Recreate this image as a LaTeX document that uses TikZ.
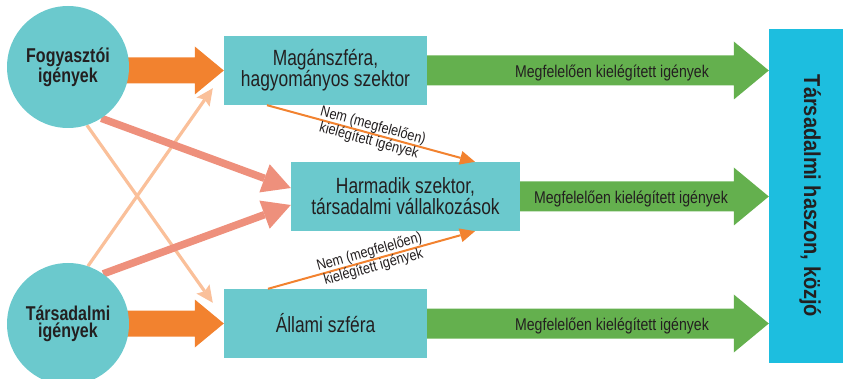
\documentclass[tikz,border=0pt]{standalone}
\usepackage{fontspec}
\setmainfont{Liberation Sans}
\newfontfamily\fgreen[FakeStretch=0.83]{Liberation Sans}
\newfontfamily\fboxt[FakeStretch=0.79]{Liberation Sans}
\newfontfamily\fcirc[FakeStretch=0.8]{Liberation Sans}
\newfontfamily\fbar[FakeStretch=0.87]{Liberation Sans}
\newfontfamily\flab[FakeStretch=0.85]{Liberation Sans}
\usetikzlibrary{arrows.meta,calc}
\definecolor{tealc}{HTML}{6BC9CD}
\definecolor{orangec}{HTML}{F2822F}
\definecolor{salmonc}{HTML}{EE907C}
\definecolor{peachc}{HTML}{FAC09A}
\definecolor{greenc}{HTML}{64B04E}
\definecolor{cyanc}{HTML}{1DBEDF}
\definecolor{darkc}{HTML}{231F20}
\pgfdeclarelayer{bg}
\pgfsetlayers{bg,main}
% block arrow: colour, start, end, shaft half, head half, head length
\newcommand\blockarr[6]{%
  \fill[#1] let \p1=(#2), \p2=(#3) in
    (\x1,\y1+#4pt) -- (\x2-#6pt,\y1+#4pt) -- (\x2-#6pt,\y1+#5pt) -- (\x2,\y1)
    -- (\x2-#6pt,\y1-#5pt) -- (\x2-#6pt,\y1-#4pt) -- (\x1,\y1-#4pt) -- cycle;}
\tikzset{
  circnode/.style={circle, fill=tealc, minimum size=122pt, inner sep=0pt, align=center,
    text=darkc, font=\fcirc\bfseries\fontsize{20pt}{17pt}\selectfont},
  sbox/.style={rectangle, fill=tealc, minimum height=69pt, inner sep=0pt, align=center,
    text=darkc, font=\fboxt\fontsize{22pt}{21pt}\selectfont},
  barnode/.style={rectangle, fill=cyanc, minimum width=74pt, minimum height=334pt, inner sep=0pt,
    text=darkc, font=\fbar\bfseries\fontsize{23pt}{23pt}\selectfont},
  gtext/.style={anchor=base, inner sep=0pt, text=darkc, font=\fgreen\fontsize{17pt}{17pt}\selectfont},
  lab/.style={align=center, inner sep=0pt, text=darkc, font=\flab\fontsize{15pt}{15.5pt}\selectfont},
  peachline/.style={draw=peachc, line width=3.2pt, -{Stealth[length=17pt,width=16pt,inset=3pt,line width=0pt]}},
  salmonline/.style={draw=salmonc, line width=7.5pt, -{Triangle[length=28pt,width=30pt,line width=0pt]}},
  thinorange/.style={draw=orangec, line width=2pt, -{Triangle[length=15pt,width=14pt,line width=0pt]}}
}
\begin{document}
\begin{tikzpicture}[x=1pt,y=-1pt]
\useasboundingbox (0,0) rectangle (843,379);
% nodes
\node[circnode] (fog) at (68,67) {Fogyasztói\\igények};
\node[circnode] (tars) at (68,324) {Társadalmi\\igények};
\node[sbox, minimum width=203pt] (mag) at (325.5,70.5) {Magánszféra,\\hagyományos szektor};
\node[sbox, minimum width=229pt] (harm) at (405.5,196.5) {Harmadik szektor,\\társadalmi vállalkozások};
\node[sbox, minimum width=203pt] (all) at (325.5,323.5) {Állami szféra};
\node[barnode] (bar) at (806,196) {\rotatebox{-90}{\smash{\raisebox{-2pt}{Társadalmi haszon, közjó}}}};
% connectors
\begin{pgfonlayer}{bg}
  \draw[peachline] (fog.-72) -- ($(all.north west)+(-11,14)$);
  \draw[peachline] (tars.71) -- ($(mag.south west)+(-11,-17)$);
  \draw[salmonline] (fog.-57) -- ($(harm.west)+(0,-8.5)$);
  \draw[salmonline] (tars.55) -- ($(harm.west)+(0,8.5)$);
  \blockarr{orangec}{fog.center |- mag.west}{mag.west}{13}{24}{29}
  \blockarr{orangec}{tars.center |- all.west}{all.west}{13}{24}{29}
  \blockarr{greenc}{mag.east}{bar.west |- mag.east}{15}{29}{35}
  \blockarr{greenc}{harm.east}{bar.west |- harm.east}{15}{29}{35}
  \blockarr{greenc}{all.east}{bar.west |- all.east}{15}{29}{35}
\end{pgfonlayer}
\draw[thinorange] ($(mag.south)+(-58.5,0)$) -- node[lab, sloped, midway] {Nem (megfelelően)\\kielégített igények} ($(harm.north)+(69.5,0)$);
\draw[thinorange] ($(all.north)+(-57.5,0)$) -- node[lab, sloped, midway] {Nem (megfelelően)\\kielégített igények} ($(harm.south)+(69.5,0)$);
% green arrow texts
\node[gtext] (g1) at (612,78) {Megfelelően kielégített igények};
\node[gtext] (g2) at (631,203.5) {Megfelelően kielégített igények};
\node[gtext] (g3) at (612,330) {Megfelelően kielégített igények};
\end{tikzpicture}
\end{document}
